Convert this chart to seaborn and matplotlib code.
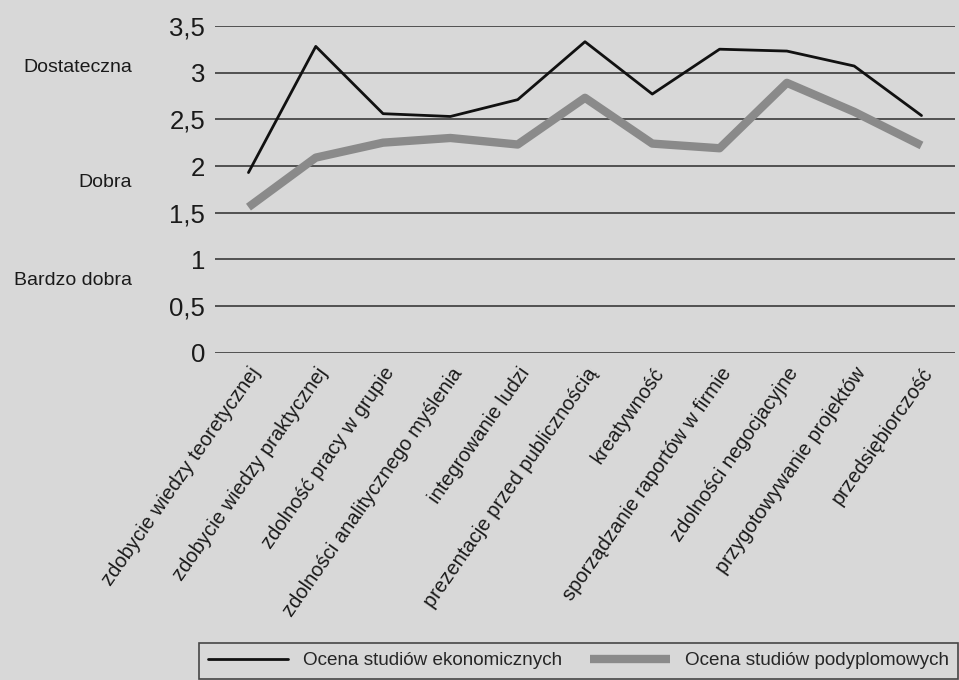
import numpy as np
import pandas as pd
import seaborn as sns
from matplotlib import pyplot as plt
from matplotlib.ticker import FixedLocator

# dane
kategorie = [
    "zdobycie wiedzy teoretycznej",
    "zdobycie wiedzy praktycznej",
    "zdolność pracy w grupie",
    "zdolności analitycznego myślenia",
    "integrowanie ludzi",
    "prezentacje przed publicznością",
    "kreatywność",
    "sporządzanie raportów w firmie",
    "zdolności negocjacyjne",
    "przygotowywanie projektów",
    "przedsiębiorczość",
]
ocena_ekonomiczne = [1.93, 3.28, 2.56, 2.53, 2.71, 3.33, 2.77, 3.25, 3.23, 3.07, 2.54]
ocena_podyplomowe = [1.56, 2.09, 2.25, 2.30, 2.23, 2.73, 2.24, 2.19, 2.89, 2.58, 2.22]
seria_nazwy = ["Ocena studiów ekonomicznych", "Ocena studiów podyplomowych"]
y_ticks = [0, 0.5, 1, 1.5, 2, 2.5, 3, 3.5]
y_tick_labels = ["0", "0,5", "1", "1,5", "2", "2,5", "3", "3,5"]
oceny_slowne = ["Dostateczna", "Dobra", "Bardzo dobra"]
oceny_poz = [3.05, 1.82, 0.78]

df1 = pd.DataFrame({"kategoria": kategorie, "ocena": ocena_ekonomiczne})
df2 = pd.DataFrame({"kategoria": kategorie, "ocena": ocena_podyplomowe})

sns.set_style("white")
plt.rcParams['font.family'] = ['Liberation Sans', 'DejaVu Sans']

tlo = '#d8d8d8'
fig = plt.figure(figsize=(9.59, 6.8), dpi=100, facecolor=tlo)
ax = fig.add_axes([0.224, 0.481, 0.772, 0.481])
ax.set_facecolor(tlo)

# linie siatki
for v in y_ticks:
    ax.axhline(v, color='#3a3a3a', linewidth=1.2, zorder=1)

sns.lineplot(data=df2, x="kategoria", y="ocena", ax=ax, sort=False,
             color='#8a8a8a', linewidth=6, label=seria_nazwy[1], zorder=3,
             solid_capstyle='butt')
sns.lineplot(data=df1, x="kategoria", y="ocena", ax=ax, sort=False,
             color='#111111', linewidth=2, label=seria_nazwy[0], zorder=4)

ax.set_xlim(-0.5, len(kategorie) - 0.5)
ax.set_ylim(0, 3.5)
ax.set_xlabel("")
ax.set_ylabel("")

for s in ax.spines.values():
    s.set_visible(False)

ax.set_yticks(y_ticks)
ax.set_yticklabels(y_tick_labels, fontsize=18.5, color='#1a1a1a')
ax.tick_params(axis='y', length=0, pad=7)

ax.set_xticks(range(len(kategorie)))
ax.set_xticklabels(kategorie, rotation=55, ha='right', rotation_mode='anchor',
                   fontsize=14.5, color='#1a1a1a')
ax.tick_params(axis='x', which='major', length=0, pad=8)
ax.xaxis.set_minor_locator(FixedLocator(np.arange(-0.5, len(kategorie), 1.0)))
ax.tick_params(axis='x', which='minor', length=4, width=1, color='#3a3a3a', direction='out')

# słowne oceny po lewej
for txt, v in zip(oceny_slowne, oceny_poz):
    ax.text(-0.112, v, txt, transform=ax.get_yaxis_transform(), ha='right',
            va='center', fontsize=14, color='#1a1a1a')

# legenda
ax.get_legend().remove()
h, l = ax.get_legend_handles_labels()
leg = fig.legend(h[::-1], l[::-1], ncol=2, loc='lower right',
                 bbox_to_anchor=(1.009, -0.012), frameon=True, fancybox=False,
                 fontsize=13.6, handlelength=4.2, columnspacing=1.5,
                 borderpad=0.5, facecolor=tlo, edgecolor='#222222')
leg.get_frame().set_linewidth(1.2)

fig.savefig("out.png", dpi=100, facecolor=tlo)
